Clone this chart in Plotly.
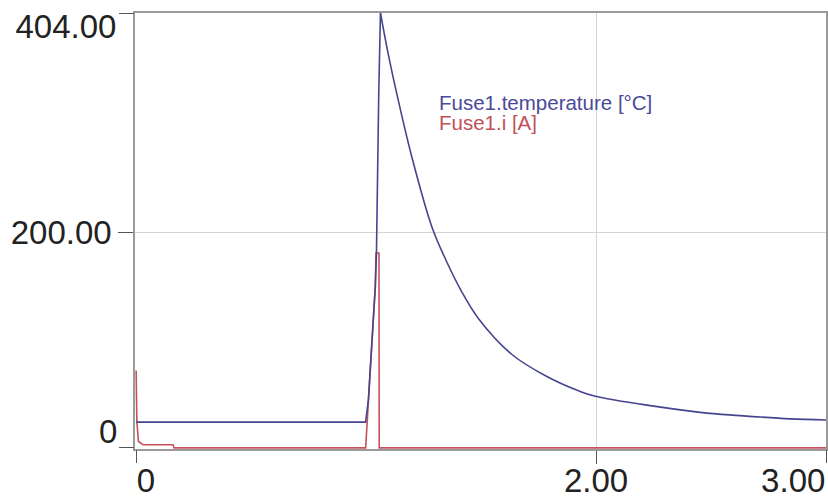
import plotly.graph_objects as go

# ---- data ----
temp_t = [0, 0.998, 1.01, 1.02, 1.03, 1.04, 1.045, 1.05, 1.055, 1.0625,
          1.099, 1.142, 1.198, 1.285, 1.346, 1.416, 1.489, 1.633, 1.78,
          1.924, 1.997, 2.453, 2.627, 2.844, 3.0]
temp_val = [24, 24, 45, 80, 115, 150, 180, 260, 330, 404,
            363, 321, 271, 206, 175, 145, 120, 87, 67,
            53, 48, 33, 30, 27, 26]
PEAK = temp_val.index(max(temp_val))

cur_t = [0, 0.003, 0.01, 0.03, 0.16, 0.165, 0.998, 1.01, 1.02, 1.03,
         1.04, 1.043, 1.056, 1.057, 3.0]
cur_val = [72, 25, 6, 3, 3, 0, 0, 40, 75, 110,
           150, 181, 181, 0, 0]

legend_labels = ["Fuse1.temperature [°C]", "Fuse1.i [A]"]
x_ticks_mid, x_ticks_mid_text = [2], ["2.00"]
x_tick_first, x_tick_first_text = [0], ["0"]
x_tick_last, x_tick_last_text = [3], ["3.00"]
y_tick_mid, y_tick_mid_text = [200], ["200.00"]
y_tick_top, y_tick_top_text = [404], ["404.00"]
y_tick_bot, y_tick_bot_text = [0], ["0"]

BLUE = "#46468f"
RED = "#c8505c"
AXIS = "#9a9a9a"
GRID = "#d4d4d4"
TICKFONT = dict(family="Liberation Sans, Arial, sans-serif", size=33, color="#222222")

XR = [-0.005, 3.0]
YR = [-1, 404]

fig = go.Figure()
fig.add_trace(go.Scatter(x=cur_t, y=cur_val, mode="lines",
                         line=dict(color=RED, width=1.6), name=legend_labels[1]))
# temperature: ambient + rise (straight segments), then smooth cooling curve
fig.add_trace(go.Scatter(x=temp_t[:PEAK + 1], y=temp_val[:PEAK + 1], mode="lines",
                         line=dict(color=BLUE, width=1.6), name=legend_labels[0]))
fig.add_trace(go.Scatter(x=temp_t[PEAK:], y=temp_val[PEAK:], mode="lines",
                         line=dict(color=BLUE, width=1.6, shape="spline", smoothing=1.0),
                         name=legend_labels[0], showlegend=False))
# empty traces so the extra (overlaid) tick axes get drawn
fig.add_trace(go.Scatter(x=[None], y=[None], xaxis="x2", yaxis="y2", mode="lines",
                         showlegend=False, hoverinfo="skip"))
fig.add_trace(go.Scatter(x=[None], y=[None], xaxis="x3", yaxis="y3", mode="lines",
                         showlegend=False, hoverinfo="skip"))

common_x = dict(range=XR, ticks="outside", ticklen=13, tickcolor="#555555", tickwidth=1.3,
                tickfont=TICKFONT, ticklabeloverflow="allow", zeroline=False,
                fixedrange=True, automargin=False)
common_y = dict(range=YR, ticks="outside", ticklen=15, tickcolor="#555555", tickwidth=1.3,
                tickfont=TICKFONT, ticklabeloverflow="allow", zeroline=False,
                fixedrange=True, automargin=False)

fig.update_layout(
    width=828, height=499,
    margin=dict(l=135, r=2, t=13, b=50, autoexpand=False),
    paper_bgcolor="white", plot_bgcolor="white",
    showlegend=False,
    xaxis=dict(**common_x, tickvals=x_ticks_mid, ticktext=x_ticks_mid_text,
               showgrid=True, gridcolor=GRID, gridwidth=1,
               showline=True, linecolor=AXIS, linewidth=1.5, mirror=True,
               layer="below traces", anchor="y", ticklabelstandoff=-11),
    xaxis2=dict(**common_x, tickvals=x_tick_first, ticktext=x_tick_first_text,
                overlaying="x", anchor="y", showgrid=False, showline=False,
                ticklabelposition="outside right", ticklabelstandoff=2),
    xaxis3=dict(**common_x, tickvals=x_tick_last, ticktext=x_tick_last_text,
                overlaying="x", anchor="y", showgrid=False, showline=False,
                ticklabelposition="outside left", ticklabelstandoff=2),
    yaxis=dict(**common_y, tickvals=y_tick_mid, ticktext=y_tick_mid_text,
               showgrid=True, gridcolor=GRID, gridwidth=1,
               showline=True, linecolor=AXIS, linewidth=1.5, mirror=True,
               layer="below traces", anchor="x"),
    yaxis2=dict(**common_y, tickvals=y_tick_top, ticktext=y_tick_top_text,
                overlaying="y", anchor="x", showgrid=False, showline=False,
                ticklabelposition="outside bottom", ticklabelshift=-10, ticklabelstandoff=11),
    yaxis3=dict(**common_y, tickvals=y_tick_bot, ticktext=y_tick_bot_text,
                overlaying="y", anchor="x", showgrid=False, showline=False,
                ticklabelposition="outside top", ticklabelshift=7, ticklabelstandoff=10),
)

LEGFONT = "Liberation Sans, Arial, sans-serif"
fig.add_annotation(x=0.437, y=0.7936, xref="paper", yref="paper", xanchor="left", yanchor="middle",
                   text=legend_labels[0], showarrow=False,
                   font=dict(family=LEGFONT, size=20.5, color="#4a4a98"))
fig.add_annotation(x=0.437, y=0.75, xref="paper", yref="paper", xanchor="left", yanchor="middle",
                   text=legend_labels[1], showarrow=False,
                   font=dict(family=LEGFONT, size=20.5, color="#c0505a"))

fig.write_html("out.html", config={"displayModeBar": False},
               post_script="document.body.style.margin='0';document.body.style.overflow='hidden';")
